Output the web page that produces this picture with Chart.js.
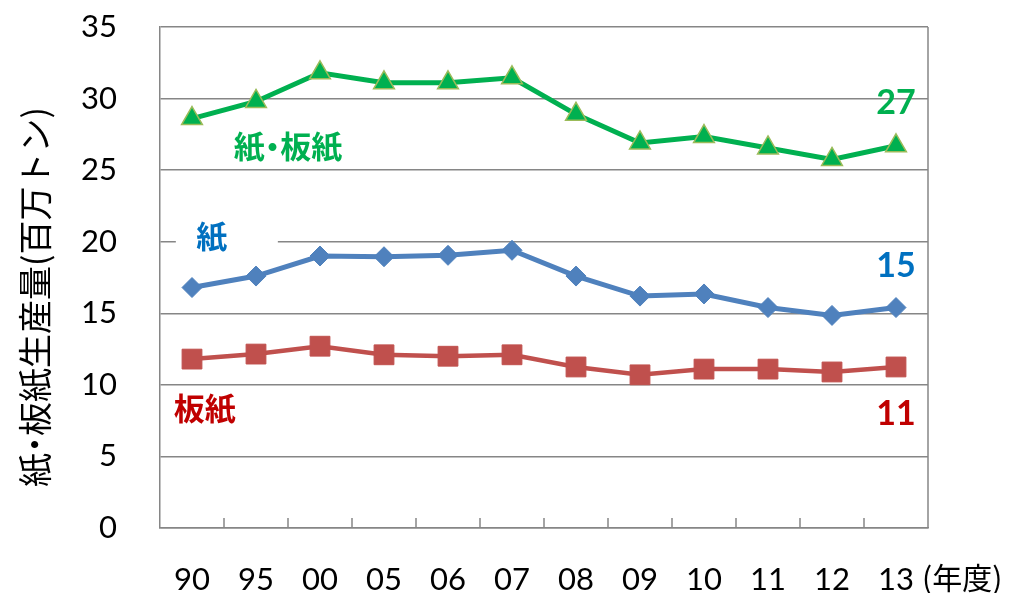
<!DOCTYPE html>
<html>
<head>
<meta charset="utf-8">
<script src="https://cdn.jsdelivr.net/npm/chart.js@4/dist/chart.umd.min.js"></script>
<style>
  html, body { margin: 0; padding: 0; background: #fff; }
  #grafica { display: block; }
</style>
</head>
<body>
<canvas id="grafica" width="1012" height="593"></canvas>
<script>
const years = ['90', '95', '00', '05', '06', '07', '08', '09', '10', '11', '12', '13'];
const paperBoard = [28.6, 29.8, 31.8, 31.1, 31.1, 31.45, 28.9, 26.9, 27.35, 26.55, 25.75, 26.7];
const paper = [16.8, 17.6, 19.0, 18.95, 19.05, 19.4, 17.6, 16.2, 16.35, 15.4, 14.85, 15.4];
const board = [11.8, 12.15, 12.7, 12.1, 12.0, 12.1, 11.25, 10.7, 11.1, 11.1, 10.9, 11.25];
const yTicks = [0, 5, 10, 15, 20, 25, 30, 35];

const numFont = 'Lato, "Noto Sans", sans-serif';
const jpFont = '"Noto Sans CJK JP", sans-serif';
const gridColor = '#868686';

// etiquetas dentro del área: [texto, índice x, valor y, color, fondo blanco]
const etiquetas = [
    ['紙・板紙', 1.5, 26.7, '#00B050', false],
    ['紙', 0.31, 20.35, '#0070C0', true],
    ['板紙', 0.2, 8.4, '#C00000', false],
    ['27', 11, 29.7, '#00B050', false],
    ['15', 11, 18.3, '#0070C0', false],
    ['11', 11, 7.95, '#C00000', false]
];

// dibuja texto japonés con el punto medio más estrecho
function textoJP(ctx, texto, x, y, size) {
    const partes = texto.split('・');
    const anchoPunto = size * 0.5;
    let total = 0;
    partes.forEach((p, i) => {
        total += ctx.measureText(p).width;
        if (i < partes.length - 1) total += anchoPunto;
    });
    let cx = x - total / 2;
    ctx.textAlign = 'left';
    partes.forEach((p, i) => {
        ctx.fillText(p, cx, y);
        cx += ctx.measureText(p).width;
        if (i < partes.length - 1) {
            ctx.textAlign = 'center';
            ctx.fillText('・', cx + anchoPunto / 2, y);
            ctx.textAlign = 'left';
            cx += anchoPunto;
        }
    });
}

const decoracion = {
    id: 'decoracion',
    beforeDatasetsDraw(chart) {
        const { ctx, chartArea, scales } = chart;
        const x = scales.x, y = scales.y;
        ctx.save();
        // borde derecho
        ctx.strokeStyle = gridColor;
        ctx.lineWidth = 1.5;
        ctx.beginPath();
        ctx.moveTo(chartArea.right, chartArea.top);
        ctx.lineTo(chartArea.right, chartArea.bottom);
        ctx.stroke();
        // marcas del eje x hacia dentro
        const paso = x.getPixelForValue(1) - x.getPixelForValue(0);
        for (let i = 0; i < years.length - 1; i++) {
            const px = x.getPixelForValue(i) + paso / 2;
            ctx.beginPath();
            ctx.moveTo(px, chartArea.bottom);
            ctx.lineTo(px, chartArea.bottom - 10);
            ctx.stroke();
        }
        // fondos blancos de etiquetas
        etiquetas.forEach(e => {
            if (!e[4]) return;
            const px = x.getPixelForValue(e[1]);
            const py = y.getPixelForValue(e[2]);
            ctx.fillStyle = '#fff';
            ctx.fillRect(px - 36, py - 16, 102, 34);
        });
        ctx.restore();
    },
    afterDraw(chart) {
        const { ctx, chartArea, scales } = chart;
        const x = scales.x, y = scales.y;
        ctx.save();
        ctx.textBaseline = 'middle';
        etiquetas.forEach(e => {
            const px = x.getPixelForValue(e[1]);
            const py = y.getPixelForValue(e[2]);
            ctx.fillStyle = e[3];
            if (/^\d+$/.test(e[0])) {
                ctx.font = 'bold 34px ' + numFont;
                ctx.textAlign = 'center';
                ctx.fillText(e[0], px, py);
            } else {
                ctx.font = 'bold 31px ' + jpFont;
                textoJP(ctx, e[0], px, py, 31);
            }
        });
        // título eje y
        ctx.fillStyle = '#000';
        ctx.font = '34px ' + jpFont;
        ctx.translate(35, 297);
        ctx.rotate(-Math.PI / 2);
        textoJP(ctx, '紙・板紙生産量(百万トン)', 0, 0, 34);
        ctx.restore();
        // unidad eje x
        ctx.save();
        ctx.fillStyle = '#000';
        ctx.font = '30px ' + jpFont;
        ctx.textAlign = 'left';
        ctx.textBaseline = 'middle';
        ctx.fillText('(年度)', chartArea.right - 6, 578);
        ctx.restore();
    }
};

new Chart(document.getElementById('grafica'), {
    type: 'line',
    data: {
        labels: years,
        datasets: [
            {
                label: '紙・板紙',
                data: paperBoard,
                borderColor: '#00B050',
                borderWidth: 5,
                pointStyle: 'triangle',
                pointRadius: 12,
                pointBackgroundColor: '#00B050',
                pointBorderColor: '#9BBB59',
                pointBorderWidth: 1.5,
                tension: 0
            },
            {
                label: '紙',
                data: paper,
                borderColor: '#4F81BD',
                borderWidth: 5,
                pointStyle: 'rectRot',
                pointRadius: 10,
                pointBackgroundColor: '#4F81BD',
                pointBorderColor: '#4F81BD',
                pointBorderWidth: 1,
                tension: 0
            },
            {
                label: '板紙',
                data: board,
                borderColor: '#C0504D',
                borderWidth: 4.5,
                pointStyle: 'rect',
                pointRadius: 14,
                pointBackgroundColor: '#C0504D',
                pointBorderColor: '#C0504D',
                pointBorderWidth: 1,
                tension: 0
            }
        ]
    },
    options: {
        responsive: false,
        animation: false,
        devicePixelRatio: 1,
        layout: { padding: { top: 27, right: 84, left: 0, bottom: 0 } },
        plugins: {
            legend: { display: false },
            tooltip: { enabled: false }
        },
        scales: {
            x: {
                offset: true,
                grid: { display: false, drawTicks: false },
                border: { display: true, color: gridColor, width: 1.5 },
                ticks: {
                    color: '#000',
                    font: { family: numFont, size: 31 },
                    padding: 33,
                    maxRotation: 0,
                    autoSkip: false
                },
                afterFit(scale) {
                    scale.height = 65;
                    scale.paddingLeft = 0;
                    scale.paddingRight = 0;
                }
            },
            y: {
                min: 0,
                max: 35,
                afterBuildTicks(scale) { scale.ticks = yTicks.map(v => ({ value: v })); },
                grid: { color: gridColor, lineWidth: 1.5, drawTicks: false },
                border: { display: true, color: gridColor, width: 1.5 },
                ticks: {
                    color: '#000',
                    font: { family: numFont, size: 31 },
                    padding: 43
                },
                afterFit(scale) {
                    scale.width = 160;
                    scale.paddingTop = 0;
                    scale.paddingBottom = 0;
                }
            }
        }
    },
    plugins: [decoracion]
});
</script>
</body>
</html>
